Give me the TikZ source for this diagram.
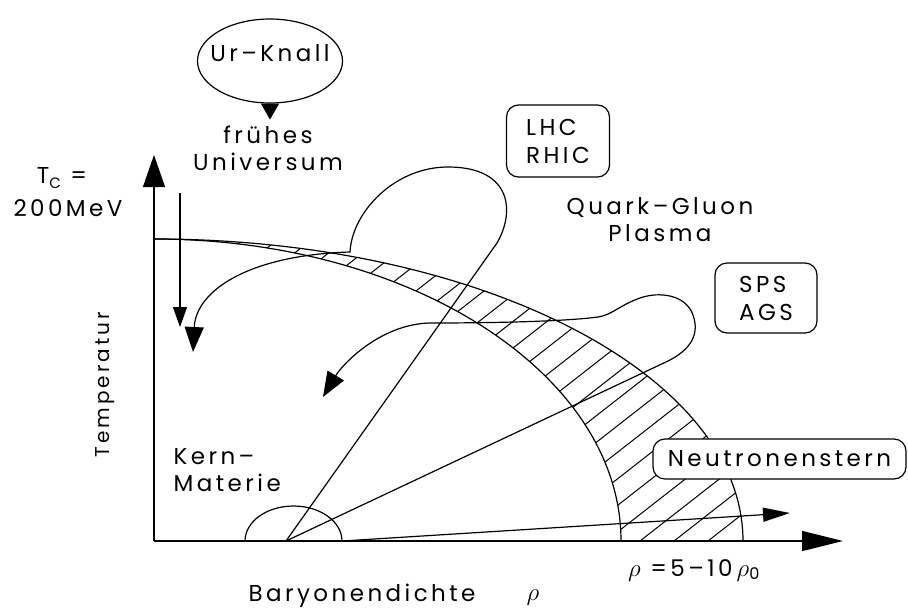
\documentclass[tikz,border=0pt]{standalone}
\usepackage{fontspec}
\setmainfont{Poppins}[LetterSpace=15]
\usetikzlibrary{arrows.meta,shapes.geometric}
\begin{document}
\begin{tikzpicture}[x=1pt,y=-1pt,line width=1.2pt,
  lbl/.style={font=\fontsize{23}{27}\selectfont, inner sep=0pt, align=center},
  rbox/.style={draw, rounded corners=12pt, fill=white, inner sep=0pt, align=left,
               font=\fontsize{23}{28}\selectfont},
  axarrow/.style={-{Triangle[length=32pt,width=22pt]}},
  xarrow/.style={-{Triangle[length=41pt,width=20pt]}},
  carrow/.style={-{Triangle[length=25pt,width=19pt]}},
  varrow/.style={-{Triangle[length=20pt,width=14pt]}},
  harrow/.style={-{Triangle[length=27pt,width=14pt]}},
  hatch/.style={line width=1pt}]
\useasboundingbox (0,0) rectangle (908,611);

% coordinates
\coordinate (O) at (154,541);
\coordinate (Ytip) at (154,155);
\coordinate (Xtip) at (843,541);
\coordinate (P) at (286,541);
\coordinate (Top) at (154,239);
\coordinate (L1) at (497,243);
\coordinate (L2) at (350,252);
\coordinate (A1) at (193,352);
\coordinate (S1) at (668,361);
\coordinate (A2) at (323,397);
\coordinate (B0) at (342,541);
\coordinate (A3) at (790,513);
\coordinate (V0) at (180,193);
\coordinate (V1) at (180,327);

% hatched band between the two phase boundaries
\begin{scope}
  \clip (Top) arc[start angle=-90,end angle=0,x radius=589,y radius=302]
        -- (621,541) arc[start angle=0,end angle=-90,x radius=467,y radius=302] -- cycle;
  \foreach \k in {-45,...,4}
    \draw[hatch] (640+34*\k,541) -- ++(700,-547);
\end{scope}
\draw (Top) arc[start angle=-90,end angle=0,x radius=589,y radius=302];
\draw (Top) arc[start angle=-90,end angle=0,x radius=467,y radius=302];

% axes
\draw[axarrow] (O) -- (Ytip);
\draw[xarrow] (O) -- (Xtip);

% nuclear matter
\draw (245,541) arc[start angle=180,end angle=360,x radius=48.5,y radius=35];

% LHC / RHIC trajectory
\draw[carrow] (P) -- (L1) .. controls (515,212) and (512,168) .. (450,167)
   .. controls (395,166) and (352,212) .. (L2)
   .. controls (250,255) and (196,290) .. (A1);

% SPS / AGS trajectory
\draw[carrow] (P) -- (S1) .. controls (690,350) and (700,335) .. (693,315)
   .. controls (686,295) and (660,291) .. (640,298)
   .. controls (620,305) and (612,315) .. (598,317)
   .. controls (560,322) and (480,323) .. (430,323)
   .. controls (380,324) and (342,365) .. (A2);

% neutron star
\draw[harrow] (B0) -- (A3);

% early universe
\draw[varrow] (V0) -- (V1);

% Big bang
\node[ellipse, draw, minimum width=145pt, minimum height=84pt, inner sep=0pt] (ur) at (270,61) {};
\node[lbl] (urt) at (270,53) {Ur–Knall};
\draw[-{Triangle[length=16pt,width=18pt]}] (ur.south) -- ++(0,16);
\node[lbl] (fr) at (268,135) {frühes};
\node[lbl] (uni) at (268,162) {Universum};

% boxes
\node[rbox, minimum width=103pt, minimum height=72pt] (lhc) at (558,141) {LHC\\RHIC};
\node[rbox, minimum width=102pt, minimum height=70pt] (sps) at (766,298) {SPS\\AGS};
\node[rbox, minimum width=253pt, minimum height=40pt, align=center] (ns) at (779.5,459) {Neutronenstern};

% labels
\node[lbl] (qgp) at (660,220) {Quark–Gluon\\Plasma};
\node[lbl, align=left, anchor=west] (km) at (173,470) {Kern–\\Materie};
\node[lbl] (tc) at (62,178) {T\raisebox{-0.35ex}{\fontsize{15}{15}\selectfont C} =};
\node[lbl] (mev) at (68,208) {200MeV};
\node[lbl, rotate=90, font=\fontsize{20}{24}\selectfont] (temp) at (105,385) {Temperatur};
\node[lbl] (rho) at (694,570) {$\rho$ =5–10$\,\rho_{\mathrm{0}}$};
\node[lbl] (bary) at (362,596) {Baryonendichte};
\node[lbl] (rho2) at (533,598) {$\rho$};
\end{tikzpicture}
\end{document}
